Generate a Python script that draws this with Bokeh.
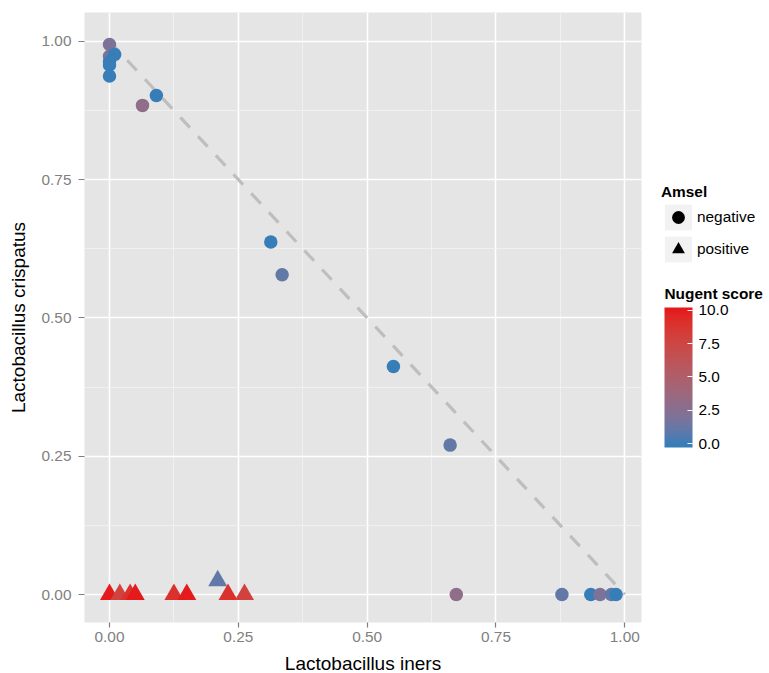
import numpy as np
from bokeh.plotting import figure
from bokeh.models import (ColumnDataSource, Range1d, FixedTicker, NumeralTickFormatter,
                          PrintfTickFormatter, LinearColorMapper, ColorBar, Legend, LegendItem)
from bokeh.transform import transform
from bokeh.embed import file_html
from bokeh.resources import INLINE

# ---------------- data ----------------
# Amsel negative (circles)
neg_iners = [0.000, 0.000, 0.010, 0.000, 0.000, 0.000, 0.091, 0.064,
             0.313, 0.335, 0.551, 0.661, 0.673, 0.878, 0.934, 0.952, 0.974, 0.983]
neg_crispatus = [0.994, 0.973, 0.976, 0.963, 0.957, 0.937, 0.902, 0.884,
                 0.637, 0.578, 0.412, 0.270, 0.000, 0.000, 0.000, 0.000, 0.000, 0.000]
neg_nugent = [2, 2, 0, 0, 0, 0, 0, 3,
              0, 1, 0, 1, 3, 1, 0, 2, 1, 0]

# Amsel positive (triangles)
pos_iners = [0.000, 0.020, 0.040, 0.050, 0.125, 0.150, 0.210, 0.230, 0.262]
pos_crispatus = [0.000, 0.000, 0.000, 0.000, 0.000, 0.000, 0.025, 0.000, 0.000]
pos_nugent = [10, 8, 9, 10, 9, 10, 1, 9, 8]

# reference line end points
ref_x = [0.0, 1.0]
ref_y = [1.0, 0.0]

axis_ticks = [0.0, 0.25, 0.5, 0.75, 1.0]
axis_minor_ticks = [0.125, 0.375, 0.625, 0.875]
nugent_ticks = [0.0, 2.5, 5.0, 7.5, 10.0]
amsel_labels = ["negative", "positive"]

# ---------------- colour scale (Lab interpolation blue -> red) ----------------
LOW_COL = "#377EB8"
HIGH_COL = "#E41A1C"


def _hex2rgb(h):
    h = h.lstrip("#")
    return np.array([int(h[i:i + 2], 16) for i in (0, 2, 4)], dtype=float) / 255.0


def _rgb2lab(rgb):
    c = np.where(rgb <= 0.04045, rgb / 12.92, ((rgb + 0.055) / 1.055) ** 2.4)
    M = np.array([[0.4124564, 0.3575761, 0.1804375],
                  [0.2126729, 0.7151522, 0.0721750],
                  [0.0193339, 0.1191920, 0.9503041]])
    xyz = M @ c / np.array([0.95047, 1.0, 1.08883])
    f = np.where(xyz > 0.008856, np.cbrt(xyz), 7.787 * xyz + 16 / 116)
    return np.array([116 * f[1] - 16, 500 * (f[0] - f[1]), 200 * (f[1] - f[2])])


def _lab2hex(lab):
    L, a, b = lab
    fy = (L + 16) / 116
    fx = fy + a / 500
    fz = fy - b / 200
    f = np.array([fx, fy, fz])
    xyz = np.where(f ** 3 > 0.008856, f ** 3, (f - 16 / 116) / 7.787) * np.array([0.95047, 1.0, 1.08883])
    Mi = np.array([[3.2404542, -1.5371385, -0.4985314],
                   [-0.9692660, 1.8760108, 0.0415560],
                   [0.0556434, -0.2040259, 1.0572252]])
    lin = np.clip(Mi @ xyz, 0, 1)
    s = np.where(lin <= 0.0031308, 12.92 * lin, 1.055 * lin ** (1 / 2.4) - 0.055)
    r, g, bb = (np.clip(np.round(s * 255), 0, 255)).astype(int)
    return "#%02x%02x%02x" % (r, g, bb)


lab_lo = _rgb2lab(_hex2rgb(LOW_COL))
lab_hi = _rgb2lab(_hex2rgb(HIGH_COL))


def palette_for(lo, hi, n=256, vmin=0.0, vmax=10.0):
    out = []
    for v in np.linspace(lo, hi, n):
        t = min(max((v - vmin) / (vmax - vmin), 0.0), 1.0)
        out.append(_lab2hex(lab_lo + (lab_hi - lab_lo) * t))
    return out


point_mapper = LinearColorMapper(palette=palette_for(0, 10), low=0, high=10)
CB_LOW, CB_HIGH = -0.3, 10.2
bar_mapper = LinearColorMapper(palette=palette_for(CB_LOW, CB_HIGH), low=CB_LOW, high=CB_HIGH)

# ---------------- figure ----------------
FONT = "Liberation Sans"
p = figure(frame_width=557, frame_height=610,
           x_range=Range1d(-0.0485, 1.0324), y_range=Range1d(-0.0506, 1.0519),
           output_backend="svg", toolbar_location=None,
           min_border_left=84, min_border_right=128, min_border_top=12, min_border_bottom=51)
p.background_fill_color = "#E5E5E5"
p.border_fill_color = "white"
p.outline_line_color = None

for ax in (p.xaxis, p.yaxis):
    ax.ticker = FixedTicker(ticks=axis_ticks, minor_ticks=axis_minor_ticks)
    ax.formatter = NumeralTickFormatter(format="0.00")
    ax.axis_line_color = None
    ax.major_tick_line_color = "#7F7F7F"
    ax.major_tick_line_width = 1.2
    ax.major_tick_in = 0
    ax.minor_tick_line_color = None
    ax.major_label_text_color = "#7F7F7F"
    ax.major_label_text_font = FONT
    ax.major_label_text_font_size = "15.4px"
    ax.axis_label_text_font = FONT
    ax.axis_label_text_font_size = "19px"
    ax.axis_label_text_font_style = "normal"
    ax.axis_label_text_color = "black"

p.xaxis.major_tick_out = 5
p.xaxis.major_label_standoff = 4
p.xaxis.axis_label = "Lactobacillus iners"
p.xaxis.axis_label_standoff = 8
p.yaxis.major_tick_out = 6
p.yaxis.major_label_standoff = 7
p.yaxis.axis_label = "Lactobacillus crispatus"
p.yaxis.axis_label_standoff = 10

p.grid.grid_line_color = "white"
p.grid.grid_line_width = 1.6
p.grid.minor_grid_line_color = "#F2F2F2"
p.grid.minor_grid_line_width = 0.8

# reference line
p.line(ref_x, ref_y, line_color="#BEBEBE", line_width=3.2, line_dash="14 12")

neg_src = ColumnDataSource(dict(x=neg_iners, y=neg_crispatus, nugent=neg_nugent))
pos_src = ColumnDataSource(dict(x=pos_iners, y=pos_crispatus, nugent=pos_nugent))

p.scatter("x", "y", source=neg_src, marker="circle", size=13.5,
          fill_color=transform("nugent", point_mapper), line_color=None)
p.scatter("x", "y", source=pos_src, marker="triangle", size=19,
          fill_color=transform("nugent", point_mapper), line_color=None)

# ---------------- Amsel legend (right side panel) ----------------
nan = float("nan")
key_src = ColumnDataSource(dict(x=[nan], y=[nan]))
key_bg = p.rect("x", "y", source=key_src, width=0.1, height=0.1, fill_color="#F2F2F2", line_color=None)
key_circle = p.scatter("x", "y", source=key_src, marker="circle", size=10, fill_color="black", line_color=None)
key_tri = p.scatter("x", "y", source=key_src, marker="triangle", size=10, fill_color="black", line_color=None)

legend = Legend(items=[LegendItem(label=amsel_labels[0], renderers=[key_bg, key_circle]),
                       LegendItem(label=amsel_labels[1], renderers=[key_bg, key_tri])],
                title="Amsel", location=(20, 357),
                title_text_font=FONT, title_text_font_size="15.4px", title_text_font_style="bold",
                title_text_color="black", title_standoff=0,
                label_text_font=FONT, label_text_font_size="15.4px", label_text_color="black",
                label_standoff=2,
                glyph_width=34, glyph_height=32, spacing=-4, padding=0, margin=0,
                border_line_color=None, background_fill_alpha=0)
p.add_layout(legend, "right")

# ---------------- Nugent colour bar ----------------
cbar = ColorBar(color_mapper=bar_mapper, ticker=FixedTicker(ticks=nugent_ticks),
                formatter=PrintfTickFormatter(format="%.1f"),
                orientation="vertical", width=28, height=140,
                location=(580, 175), padding=0, margin=0,
                major_label_text_font=FONT, major_label_text_font_size="15.4px",
                major_label_text_color="black", label_standoff=6,
                major_tick_line_color="white", major_tick_in=5, major_tick_out=0,
                minor_tick_line_color=None, bar_line_color=None,
                border_line_color=None, background_fill_alpha=0)
p.add_layout(cbar, "center")

# colour-bar title: a horizontal, fully transparent bar that only carries the title
cbar_title = ColorBar(color_mapper=bar_mapper, ticker=FixedTicker(ticks=[]),
                      orientation="horizontal", width=100, height=1, scale_alpha=0,
                      location=(580, 320), padding=0, margin=0,
                      title="Nugent score", title_text_font=FONT, title_text_font_size="15.4px",
                      title_text_font_style="bold", title_text_color="black", title_standoff=0,
                      major_tick_line_color=None, minor_tick_line_color=None, bar_line_color=None,
                      border_line_color=None, background_fill_alpha=0)
p.add_layout(cbar_title, "center")

open("out.html", "w").write(file_html(p, INLINE))
